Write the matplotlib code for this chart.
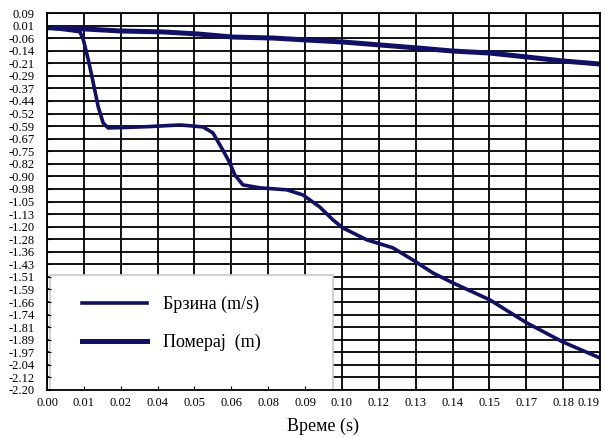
import numpy as np
import matplotlib.pyplot as plt
from matplotlib.patches import Rectangle

plt.rcParams['font.family'] = ['Liberation Serif', 'DejaVu Serif']

# брзина (m/s)
t_v = [0.001, 0.0113, 0.0125, 0.0142, 0.0159, 0.0176, 0.0193, 0.0210, 0.0274, 0.035,
       0.0457, 0.0536, 0.057, 0.0604, 0.0628, 0.0645, 0.0673, 0.0731, 0.0824, 0.0879,
       0.0937, 0.0982, 0.1016, 0.1099, 0.1188, 0.1256, 0.1325, 0.1394, 0.1521, 0.1648,
       0.1771, 0.1898]
v = [0.0, -0.0235, -0.074, -0.195, -0.335, -0.48, -0.578, -0.608, -0.605, -0.60,
     -0.590, -0.602, -0.638, -0.742, -0.82, -0.893, -0.954, -0.972, -0.984, -1.015,
     -1.088, -1.166, -1.215, -1.288, -1.336, -1.409, -1.488, -1.549, -1.652, -1.792,
     -1.907, -2.004]

# померај (m)
t_s = [0.001, 0.013, 0.025, 0.040, 0.0515, 0.0639, 0.0776, 0.0893, 0.1016, 0.1143,
       0.127, 0.1394, 0.152, 0.1648, 0.177, 0.19]
s = [0.0, -0.007, -0.019, -0.025, -0.037, -0.056, -0.062, -0.074, -0.086, -0.104,
     -0.122, -0.141, -0.153, -0.177, -0.201, -0.22]

xlabels = ['0.00', '0.01', '0.02', '0.04', '0.05', '0.06', '0.08', '0.09', '0.10',
           '0.12', '0.13', '0.14', '0.15', '0.17', '0.18', '0.19']
ylabels = ['0.09', '0.01', '-0.06', '-0.14', '-0.21', '-0.29', '-0.37', '-0.44', '-0.52',
           '-0.59', '-0.67', '-0.75', '-0.82', '-0.90', '-0.98', '-1.05', '-1.13', '-1.20',
           '-1.28', '-1.36', '-1.43', '-1.51', '-1.59', '-1.66', '-1.74', '-1.81', '-1.89',
           '-1.97', '-2.04', '-2.12', '-2.20']

xt = np.linspace(0, 0.19, len(xlabels))
yt = np.linspace(0.09, -2.20, len(ylabels))

fig = plt.figure(figsize=(6.05, 4.38), dpi=100)
ax = fig.add_axes([0.0777, 0.1096, 0.914, 0.8607])

col = '#10106a'
ax.plot(t_v, v, color=col, lw=2.6, zorder=3, label='Брзина (m/s)')
ax.plot(t_s, s, color=col, lw=3.6, zorder=3, label='Померај  (m)')

# мрежа
for x in xt:
    ax.axvline(x, color='black', lw=1.3, zorder=1)
for y in yt:
    ax.axhline(y, color='black', lw=1.3, zorder=1)

ax.set_xlim(0, 0.19)
ax.set_ylim(-2.20, 0.09)
ax.set_xticks(xt)
ax.set_xticklabels(xlabels)
ax.set_yticks(yt)
ax.set_yticklabels(ylabels)
ax.tick_params(axis='y', direction='in', length=3, pad=9, labelsize=9)
ax.tick_params(axis='x', direction='in', length=3, pad=5, labelsize=9)
ax.tick_params(right=True, top=False)
ax.get_xticklabels()[-1].set_horizontalalignment('right')
for sp in ax.spines.values():
    sp.set_linewidth(1.3)
    sp.set_zorder(6)
ax.xaxis.set_zorder(6)
ax.yaxis.set_zorder(6)

ax.set_xlabel('Време (s)', fontsize=13, labelpad=6)

box = Rectangle((0.005, 0.0), 0.512, 0.305, transform=ax.transAxes,
                facecolor='white', edgecolor='#c8c8c8', lw=1.2, zorder=4)
ax.add_patch(box)
leg = ax.legend(loc='upper left', bbox_to_anchor=(0.063, 0.25), frameon=False,
                fontsize=13, handlelength=3.6, handletextpad=0.9, labelspacing=1.15,
                borderpad=0, borderaxespad=0)
leg.set_zorder(5)

plt.savefig('out.png')
